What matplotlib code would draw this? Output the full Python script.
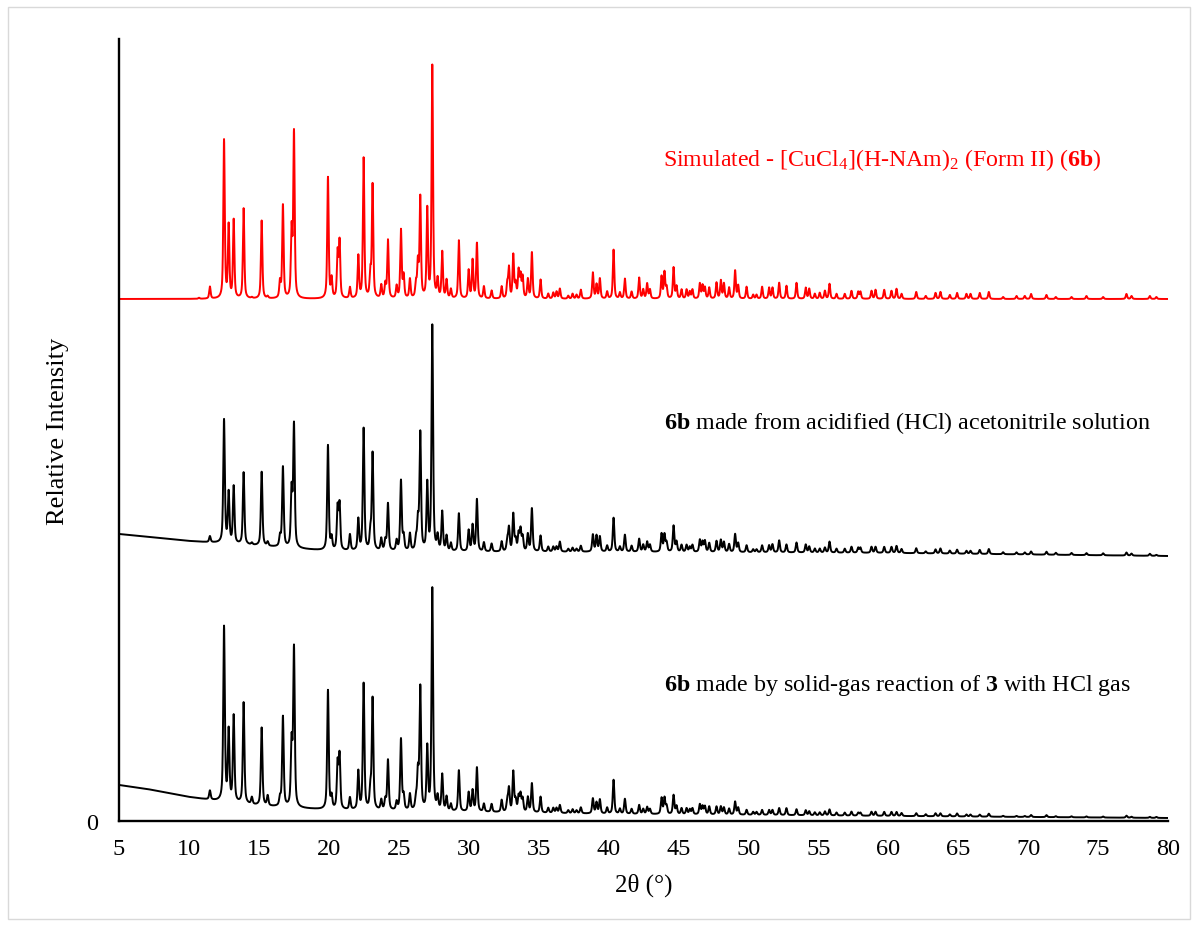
import numpy as np
import matplotlib
matplotlib.use("Agg")
import matplotlib.pyplot as plt
from matplotlib.patches import Rectangle

plt.rcParams['font.family'] = ['Liberation Serif', 'DejaVu Serif']
plt.rcParams['mathtext.fontset'] = 'custom'
plt.rcParams['mathtext.rm'] = 'Liberation Serif'
plt.rcParams['mathtext.it'] = 'Liberation Serif:italic'
plt.rcParams['mathtext.bf'] = 'Liberation Serif:bold'

# Reflection positions (2θ, degrees)
peak_pos = [10.72, 11.50, 12.51, 12.84, 13.20, 13.91, 14.50, 15.20, 15.63, 16.51,
            16.72, 17.34, 17.51, 19.94, 20.20, 20.63, 20.77, 21.51, 22.11, 22.49,
            22.97, 23.13, 23.75, 24.04, 24.23, 24.85, 25.16, 25.35, 25.80, 26.23,
            26.37, 26.54, 27.04, 27.40, 27.78, 28.11, 28.42, 28.73, 29.30, 30.00,
            30.28, 30.59, 31.09, 31.64, 32.36, 32.76, 32.88, 33.19, 33.36, 33.57,
            33.71, 33.86, 34.23, 34.52, 35.14, 35.69, 36.05, 36.28, 36.52, 37.12,
            37.43, 37.71, 38.02, 38.88, 39.14, 39.38, 39.90, 40.36, 40.81, 41.17,
            41.65, 42.19, 42.48, 42.76, 42.96, 43.79, 44.00, 44.15, 44.65, 44.86,
            45.22, 45.58, 45.81, 46.00, 46.53, 46.72, 46.89, 47.20, 47.72, 48.03,
            48.25, 48.62, 49.05, 49.27, 49.87, 50.34, 50.58, 50.98, 51.48, 51.72,
            52.20, 52.72, 53.44, 54.10, 54.35, 54.75, 55.10, 55.47, 55.80, 56.30,
            56.89, 57.37, 57.85, 58.01, 58.80, 59.09, 59.71, 60.23, 60.59, 60.95,
            62.00, 62.68, 63.38, 63.73, 64.40, 64.92, 65.59, 65.88, 66.54, 67.19,
            68.21, 69.17, 69.76, 70.21, 71.31, 71.98, 73.10, 74.17, 75.36, 77.03,
            77.39, 78.70, 79.17]

# Peak heights: simulated Form II pattern
sim_heights = [1, 12, 158, 72, 78, 90, 1, 78, 2, 16,
               93, 66, 165, 121, 19, 45, 56, 11, 42, 140,
               24, 113, 13, 14, 58, 12, 68, 22, 19, 14,
               34, 100, 88, 232, 18, 46, 18, 9, 58, 28,
               38, 55, 12, 8, 12, 14, 30, 43, 14, 27,
               22, 21, 19, 46, 19, 5, 6, 7, 10, 3,
               5, 4, 9, 26, 14, 20, 7, 49, 6, 20,
               7, 21, 9, 15, 9, 22, 26, 11, 31, 12,
               9, 9, 7, 9, 15, 13, 11, 11, 16, 18,
               15, 11, 28, 13, 12, 4, 4, 12, 11, 11,
               16, 13, 16, 11, 10, 5, 6, 8, 15, 5,
               5, 8, 7, 7, 8, 9, 9, 8, 10, 5,
               7, 3, 6, 7, 4, 6, 5, 5, 6, 7,
               2, 3, 3, 5, 4, 2, 2, 3, 2, 5,
               3, 3, 2]

# Peak heights: sample from acidified acetonitrile solution
sol_heights = [0, 6, 123, 50, 57, 72, 2, 74, 4, 10,
               80, 56, 122, 105, 12, 42, 45, 16, 31, 122,
               17, 97, 12, 10, 47, 10, 70, 14, 17, 11,
               28, 117, 66, 225, 14, 39, 15, 8, 38, 21,
               26, 52, 9, 8, 10, 11, 23, 37, 11, 17,
               21, 14, 17, 43, 16, 5, 5, 5, 10, 3,
               4, 3, 6, 17, 16, 15, 6, 34, 5, 17,
               6, 13, 7, 10, 7, 18, 17, 9, 26, 10,
               7, 7, 5, 7, 12, 10, 11, 9, 11, 12,
               10, 8, 18, 9, 7, 3, 3, 7, 7, 8,
               12, 8, 10, 8, 6, 4, 4, 5, 11, 4,
               4, 6, 5, 5, 6, 6, 6, 6, 7, 4,
               5, 2, 4, 5, 3, 4, 3, 3, 4, 5,
               2, 2, 2, 3, 3, 2, 2, 2, 2, 3,
               2, 2, 1]

# Peak heights: sample from solid-gas reaction with HCl
gas_heights = [0, 9, 174, 70, 86, 101, 7, 78, 10, 8,
               90, 62, 158, 119, 12, 45, 53, 12, 38, 126,
               19, 111, 10, 10, 50, 8, 71, 14, 16, 11,
               36, 122, 62, 222, 13, 36, 14, 7, 41, 19,
               21, 44, 8, 8, 12, 11, 23, 40, 11, 15,
               17, 13, 15, 29, 16, 5, 5, 5, 8, 3,
               4, 3, 6, 15, 11, 14, 6, 34, 5, 15,
               5, 9, 5, 7, 5, 16, 16, 8, 19, 8,
               6, 6, 5, 6, 10, 8, 8, 8, 8, 8,
               7, 6, 13, 7, 5, 3, 3, 5, 5, 5,
               7, 7, 6, 5, 4, 3, 3, 4, 6, 3,
               3, 4, 3, 3, 4, 4, 4, 4, 4, 3,
               3, 2, 3, 3, 2, 3, 2, 2, 2, 3,
               1, 1, 1, 2, 2, 1, 1, 1, 1, 2,
               1, 1, 1]

# Amorphous background above each experimental trace's baseline
sol_bg_x = [5, 10, 15, 20, 30, 40, 60, 80]
sol_bg_y = [22, 15, 10, 5, 4, 4, 3, 0]
gas_bg_x = [5, 7, 10, 12, 15, 20, 25, 30, 40, 50, 60, 80]
gas_bg_y = [33, 29, 21, 17, 12, 8, 7, 6, 4, 3, 2, 0]

# Vertical stacking of the three patterns
sim_offset, sol_offset, gas_offset = 522, 265, 3

two_theta = np.arange(5.0, 80.0001, 0.01)


def pattern(heights, fwhm, eta=0.6):
    """Sum of pseudo-Voigt reflections with the given peak heights."""
    y = np.zeros_like(two_theta)
    hw = fwhm / 2.0
    for p, h in zip(peak_pos, heights):
        if h <= 0:
            continue
        d = two_theta - p
        lor = 1.0 / (1.0 + (d / hw) ** 2)
        gau = np.exp(-np.log(2) * (d / hw) ** 2)
        y += h * (eta * lor + (1 - eta) * gau)
    return y


sim_y = sim_offset + pattern(sim_heights, 0.12)
sol_y = sol_offset + np.interp(two_theta, sol_bg_x, sol_bg_y) + pattern(sol_heights, 0.13)
gas_y = gas_offset + np.interp(two_theta, gas_bg_x, gas_bg_y) + pattern(gas_heights, 0.13)

fig = plt.figure(figsize=(11.98, 9.28), dpi=100)
ax = fig.add_axes([119 / 1198, 106 / 928, 1049 / 1198, 782 / 928])

ax.plot(two_theta, gas_y, color='black', lw=1.4)
ax.plot(two_theta, sol_y, color='black', lw=1.4)
ax.plot(two_theta, sim_y, color='#ff0000', lw=1.4)

ax.set_xlim(5, 80)
ax.set_ylim(0, 782)
ax.set_xticks(np.arange(5, 81, 5))
ax.set_yticks([0])
ax.tick_params(axis='both', length=0, labelsize=17.5)
ax.tick_params(axis='x', pad=12)
ax.tick_params(axis='y', pad=15)
for side in ('top', 'right'):
    ax.spines[side].set_visible(False)
for side in ('left', 'bottom'):
    ax.spines[side].set_linewidth(1.7)
    ax.spines[side].set_color('black')

ax.set_xlabel('2θ (°)', fontsize=18, labelpad=10)
ax.set_ylabel('Relative Intensity', fontsize=19, labelpad=12)

ax.text(43.9, 662, r'Simulated - [CuCl$_4$](H-NAm)$_2$ (Form II) ($\mathbf{6b}$)',
        color='#ff0000', fontsize=17.2, ha='left', va='center')
ax.text(44.0, 399, r'$\mathbf{6b}$ made from acidified (HCl) acetonitrile solution',
        color='black', fontsize=17.3, ha='left', va='center')
ax.text(44.0, 136, r'$\mathbf{6b}$ made by solid-gas reaction of $\mathbf{3}$ with HCl gas',
        color='black', fontsize=17.3, ha='left', va='center')

fig.patches.append(Rectangle((8 / 1198, 8 / 928), 1182 / 1198, 912 / 928,
                             transform=fig.transFigure, fill=False,
                             edgecolor='#d9d9d9', lw=1.0))

fig.savefig('out.png', dpi=100, facecolor='white')
